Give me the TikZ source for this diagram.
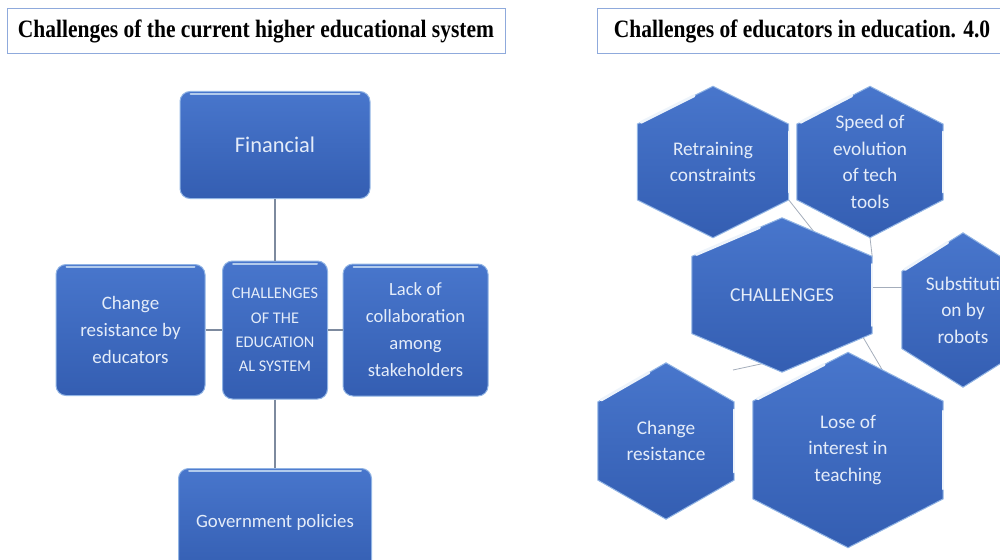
\documentclass[tikz,border=0pt]{standalone}
\usepackage{fontspec}
\setmainfont{Carlito}
\newfontfamily\titlefont{Liberation Serif}
\usetikzlibrary{calc,backgrounds}
\definecolor{boxtop}{RGB}{72,118,204}
\definecolor{boxbot}{RGB}{52,94,178}
\definecolor{boxedge}{RGB}{145,180,228}
\definecolor{boxtext}{RGB}{228,236,249}
\definecolor{linkgray}{RGB}{125,138,158}
\definecolor{titleedge}{RGB}{143,170,220}

\begin{document}
\begin{tikzpicture}[x=1pt,y=-1pt]
       \tikzstyle{ttlbox} = [draw=titleedge, line width=1pt, fill=white, minimum height=45, inner sep=0, font=\titlefont\bfseries\fontsize{25}{30}\selectfont];
       \tikzstyle{chalbox} = [rounded corners=10, top color=boxtop, bottom color=boxbot, draw=boxedge, line width=1pt, text=boxtext, align=center, inner sep=0];
       \tikzstyle{hexlabel} = [inner sep=0, text=boxtext, align=center, font=\fontsize{19.3}{26.5}\selectfont];
       \tikzstyle{hexfill} = [top color=boxtop, bottom color=boxbot, draw=boxedge, line width=1pt];
       \tikzstyle{shine} = [draw=white!85!boxedge, line width=3pt, line cap=round];
       \tikzstyle{link} = [draw=linkgray, line width=1.3pt];
       \tikzstyle{thinlink} = [draw=linkgray!70, line width=0.8pt];

       \useasboundingbox (0,0) rectangle (1000,559);
       \clip (0,0) rectangle (1000,559);

       % titles
       \node (ttlleft) [ttlbox, minimum width=498] at (256,31.5) {\scalebox{0.86}[1]{Challenges of the current higher educational system}};
       \node (ttlright) [ttlbox, minimum width=410] at (802,31.5) {\scalebox{0.86}[1]{Challenges of educators in education. 4.0}};

       % left: boxes round the centre
       \node (fin) [chalbox, minimum width=190, minimum height=107, font=\fontsize{22.4}{27}\selectfont] at (275,145) {Financial};
       \node (ctr) [chalbox, minimum width=105, minimum height=138, font=\fontsize{16.3}{24.3}\selectfont] at (275,330) {CHALLENGES\\OF THE\\EDUCATION\\AL SYSTEM};
       \node (lft) [chalbox, minimum width=149, minimum height=131, font=\fontsize{19}{27}\selectfont] at (130.5,330) {Change\\resistance by\\educators};
       \node (rgt) [chalbox, minimum width=145, minimum height=132, font=\fontsize{18.6}{27}\selectfont] at (415.5,330) {Lack of\\collaboration\\among\\stakeholders};
       \node (gov) [chalbox, minimum width=193, minimum height=107, font=\fontsize{18.8}{27}\selectfont] at (275,522) {Government policies};

       \foreach \n in {fin,ctr,lft,rgt,gov}
         \draw[shine, line width=2pt, draw=boxedge!70!white] ($(\n.north west)+(11,3)$) -- ($(\n.north east)+(-11,3)$);

       \draw[link] (fin) -- (ctr);
       \draw[link] (ctr) -- (gov);
       \draw[link] (lft) -- (ctr);
       \draw[link] (ctr) -- (rgt);

       % right: hexagon cluster
       \node (retrain) [hexlabel, minimum width=151, minimum height=151] at (713,162) {Retraining\\constraints};
       \node (speed) [hexlabel, minimum width=146, minimum height=151] at (870,162) {Speed of\\evolution\\of tech\\tools};
       \node (chal) [hexlabel, minimum width=180, minimum height=154, font=\fontsize{19.7}{26.5}\selectfont] at (782,295) {CHALLENGES};
       \node (subst) [hexlabel, minimum width=122, minimum height=154] at (963,310) {Substituti\\on by\\robots};
       \node (change) [hexlabel, minimum width=136, minimum height=156] at (666,441) {Change\\resistance};
       \node (lose) [hexlabel, minimum width=190, minimum height=195] at (848,450) {Lose of\\interest in\\teaching};

       \foreach \n in {retrain,speed,chal,subst,change,lose} {
         \coordinate (\n-1) at (\n.north);
         \coordinate (\n-2) at ($(\n.north east)!0.25!(\n.south east)$);
         \coordinate (\n-3) at ($(\n.north east)!0.75!(\n.south east)$);
         \coordinate (\n-4) at (\n.south);
         \coordinate (\n-5) at ($(\n.north west)!0.75!(\n.south west)$);
         \coordinate (\n-6) at ($(\n.north west)!0.25!(\n.south west)$);
       }
       \coordinate (gap) at (733,370);
       \coordinate (chal-r) at ($(chal-2)!0.4!(chal-3)$);

       \begin{pgfonlayer}{background}
         \begin{scope}
           \clip (0,0) rectangle (1000,559);
           \draw[thinlink] (retrain-3) -- ($(chal-1)!0.35!(chal-2)$);
           \draw[thinlink] (speed-4) -- (chal-2);
           \draw[thinlink] (chal-r) -- (chal-r -| subst-6);
           \draw[thinlink] (gap) -- ($(chal-4)!0.22!(chal-5)$);
           \draw[thinlink] ($(chal-3)!0.1!(chal-4)$) -- ($(lose-1)!0.36!(lose-2)$);
           \foreach \n in {retrain,speed,chal,subst,change,lose} {
             \path[hexfill] (\n-1) -- (\n-2) -- (\n-3) -- (\n-4) -- (\n-5) -- (\n-6) -- cycle;
             \draw[shine] ($(\n-6)!0.05!(\n-1)$) -- ($(\n-6)!0.75!(\n-1)$);
             \draw[shine, line width=2pt] ($(\n-2)!0.1!(\n-3)$) -- ($(\n-2)!0.9!(\n-3)$);
           }
         \end{scope}
       \end{pgfonlayer}
\end{tikzpicture}
\end{document}
